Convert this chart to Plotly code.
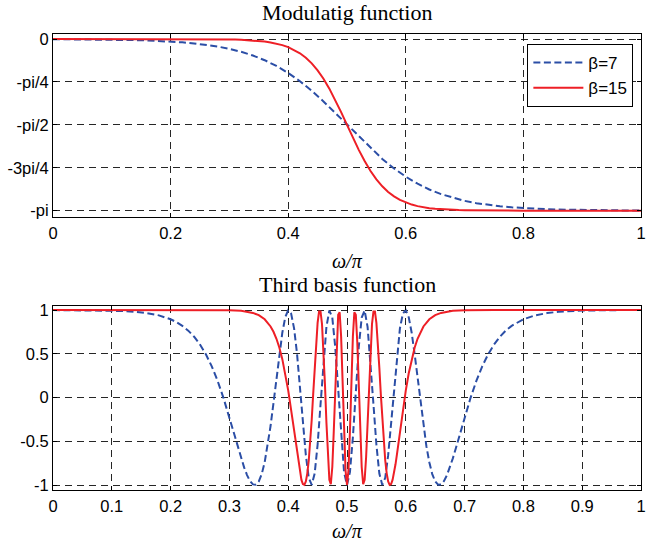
import plotly.graph_objects as go
from plotly.subplots import make_subplots

# ---------------- data ----------------
# Top panel: modulating function (radians)
top_x_b7 = [0.0, 0.02, 0.04, 0.06, 0.08, 0.1, 0.12, 0.14, 0.16, 0.18, 0.2, 0.22, 0.24, 0.26, 0.28,
            0.3, 0.32, 0.34, 0.36, 0.38, 0.4, 0.42, 0.44, 0.46, 0.48, 0.5, 0.52, 0.54, 0.56, 0.58,
            0.6, 0.62, 0.64, 0.66, 0.68, 0.7, 0.72, 0.74, 0.76, 0.78, 0.8, 0.82, 0.84, 0.86, 0.88,
            0.9, 0.92, 0.94, 0.96, 0.98, 1.0]
top_y_b7 = [-0.0029, -0.0038, -0.0050, -0.0066, -0.0088, -0.0116, -0.0153, -0.0202, -0.0267, -0.0352,
            -0.0464, -0.0611, -0.0804, -0.1055, -0.1380, -0.1801, -0.2340, -0.3023, -0.3879, -0.4935,
            -0.6215, -0.7729, -0.9473, -1.1421, -1.3523, -1.5708, -1.7893, -1.9995, -2.1943, -2.3687,
            -2.5201, -2.6481, -2.7537, -2.8393, -2.9076, -2.9615, -3.0036, -3.0361, -3.0612, -3.0805,
            -3.0952, -3.1064, -3.1149, -3.1214, -3.1263, -3.1300, -3.1329, -3.1350, -3.1366, -3.1378,
            -3.1387]

top_x_b15 = [0.0, 0.1, 0.2, 0.25, 0.3, 0.31, 0.32, 0.33, 0.34, 0.35, 0.36, 0.37, 0.38, 0.39, 0.4,
             0.41, 0.42, 0.43, 0.44, 0.45, 0.46, 0.47, 0.48, 0.49, 0.5, 0.51, 0.52, 0.53, 0.54, 0.55,
             0.56, 0.57, 0.58, 0.59, 0.6, 0.61, 0.62, 0.63, 0.64, 0.65, 0.66, 0.67, 0.68, 0.69, 0.7,
             0.75, 0.8, 0.9, 1.0]
top_y_b15 = [0.0, 0.0, -0.0004, -0.0017, -0.0078, -0.0105, -0.0141, -0.0190, -0.0256, -0.0345,
             -0.0464, -0.0623, -0.0836, -0.1117, -0.1490, -0.1978, -0.2613, -0.3428, -0.4456, -0.5731,
             -0.7272, -0.9081, -1.1132, -1.3369, -1.5708, -1.8047, -2.0284, -2.2335, -2.4144, -2.5685,
             -2.6960, -2.7988, -2.8803, -2.9438, -2.9926, -3.0299, -3.0580, -3.0793, -3.0952, -3.1071,
             -3.1160, -3.1226, -3.1275, -3.1311, -3.1338, -3.1399, -3.1412, -3.1416, -3.1416]

# Bottom panel: third basis function
bot_x_b7 = [0.0, 0.05, 0.1, 0.12, 0.14, 0.16, 0.18, 0.2, 0.21, 0.22, 0.23, 0.24, 0.25, 0.26, 0.27,
            0.28, 0.29, 0.3, 0.305, 0.31, 0.315, 0.32, 0.325, 0.33, 0.335, 0.34, 0.345, 0.35, 0.355,
            0.36, 0.365, 0.37, 0.375, 0.38, 0.385, 0.39, 0.395, 0.4, 0.405, 0.41, 0.415, 0.42, 0.425,
            0.43, 0.435, 0.44, 0.445, 0.45, 0.455, 0.46, 0.465, 0.47, 0.475, 0.48, 0.485, 0.49, 0.495,
            0.5, 0.505, 0.51, 0.515, 0.52, 0.525, 0.53, 0.535, 0.54, 0.545, 0.55, 0.555, 0.56, 0.565,
            0.57, 0.575, 0.58, 0.585, 0.59, 0.595, 0.6, 0.605, 0.61, 0.615, 0.62, 0.625, 0.63, 0.635,
            0.64, 0.645, 0.65, 0.655, 0.66, 0.665, 0.67, 0.675, 0.68, 0.685, 0.69, 0.695, 0.7, 0.71,
            0.72, 0.73, 0.74, 0.75, 0.76, 0.77, 0.78, 0.79, 0.8, 0.82, 0.84, 0.86, 0.88, 0.9, 0.95, 1.0]
bot_y_b7 = [0.9996, 0.9983, 0.9933, 0.9883, 0.9797, 0.9646, 0.9387, 0.8942, 0.8614, 0.8189, 0.7643,
            0.6941, 0.6050, 0.4936, 0.3561, 0.1893, -0.0066, -0.2281, -0.3454, -0.4645, -0.5822,
            -0.695, -0.7985, -0.887, -0.954, -0.993, -0.997, -0.9594, -0.8749, -0.7403, -0.5557,
            -0.3259, -0.0612, 0.2209, 0.4979, 0.7404, 0.9171, 0.9977, 0.9589, 0.790, 0.502, 0.125,
            -0.286, -0.659, -0.918, -0.999, -0.869, -0.540, -0.078, 0.413, 0.807, 0.994, 0.913, 0.577,
            0.0726, -0.4553, -0.853, -1.0, -0.853, -0.4553, 0.0726, 0.577, 0.913, 0.994, 0.807, 0.413,
            -0.078, -0.540, -0.869, -0.999, -0.918, -0.659, -0.286, 0.125, 0.502, 0.790, 0.9589,
            0.9977, 0.9171, 0.7404, 0.4979, 0.2209, -0.0612, -0.3259, -0.5557, -0.7403, -0.8749,
            -0.9594, -0.997, -0.993, -0.954, -0.887, -0.7985, -0.695, -0.5822, -0.4645, -0.3454,
            -0.2281, -0.0066, 0.1893, 0.3561, 0.4936, 0.6050, 0.6941, 0.7643, 0.8189, 0.8614, 0.8942,
            0.9387, 0.9646, 0.9797, 0.9883, 0.9933, 0.9983, 0.9996]

bot_x_b15 = [0.0, 0.25, 0.3, 0.32, 0.33, 0.34, 0.35, 0.36, 0.37, 0.375, 0.38, 0.385, 0.39, 0.395, 0.4,
             0.4025, 0.405, 0.4075, 0.41, 0.4125, 0.415, 0.4175, 0.42, 0.4225, 0.425, 0.4275, 0.43,
             0.4325, 0.435, 0.4375, 0.44, 0.4425, 0.445, 0.4475, 0.45, 0.4525, 0.455, 0.4575, 0.46,
             0.4625, 0.465, 0.4675, 0.47, 0.4725, 0.475, 0.4775, 0.48, 0.4825, 0.485, 0.4875, 0.49,
             0.4925, 0.495, 0.4975, 0.5, 0.5025, 0.505, 0.5075, 0.51, 0.5125, 0.515, 0.5175, 0.52,
             0.5225, 0.525, 0.5275, 0.53, 0.5325, 0.535, 0.5375, 0.54, 0.5425, 0.545, 0.5475, 0.55,
             0.5525, 0.555, 0.5575, 0.56, 0.5625, 0.565, 0.5675, 0.57, 0.5725, 0.575, 0.5775, 0.58,
             0.5825, 0.585, 0.5875, 0.59, 0.5925, 0.595, 0.5975, 0.6, 0.605, 0.61, 0.615, 0.62, 0.625,
             0.63, 0.64, 0.65, 0.66, 0.67, 0.68, 0.7, 0.75, 1.0]
bot_y_b15 = [1.0, 1.0, 0.997, 0.990, 0.982, 0.967, 0.941, 0.894, 0.812, 0.751, 0.671, 0.569, 0.438,
             0.277, 0.081, -0.029, -0.147, -0.270, -0.397, -0.524, -0.648, -0.763, -0.863, -0.942,
             -0.989, -0.998, -0.959, -0.867, -0.717, -0.511, -0.254, 0.039, 0.342, 0.626, 0.852, 0.982,
             0.983, 0.838, 0.549, 0.154, -0.286, -0.682, -0.941, -0.989, -0.794, -0.387, 0.136, 0.630,
             0.945, 0.973, 0.696, 0.187, -0.386, -0.832, -1.0, -0.832, -0.386, 0.187, 0.696, 0.973,
             0.945, 0.630, 0.136, -0.387, -0.794, -0.989, -0.941, -0.682, -0.286, 0.154, 0.549, 0.838,
             0.983, 0.982, 0.852, 0.626, 0.342, 0.039, -0.254, -0.511, -0.717, -0.867, -0.959, -0.998,
             -0.989, -0.942, -0.863, -0.763, -0.648, -0.524, -0.397, -0.270, -0.147, -0.029, 0.081,
             0.277, 0.438, 0.569, 0.671, 0.751, 0.812, 0.894, 0.941, 0.967, 0.982, 0.990, 0.997, 1.0,
             1.0]

series_names = ["β=7", "β=15"]
top_xticks = [0, 0.2, 0.4, 0.6, 0.8, 1]
bot_xticks = [0, 0.1, 0.2, 0.3, 0.4, 0.5, 0.6, 0.7, 0.8, 0.9, 1]
top_yticks = [-3.1416, -2.3562, -1.5708, -0.7854, 0]
top_yticklabels = ["-pi", "-3pi/4", "-pi/2", "-pi/4", "0"]
bot_yticks = [-1, -0.5, 0, 0.5, 1]
bot_yticklabels = ["-1", "-0.5", "0", "0.5", "1"]
titles = ["Modulatig function", "Third basis function"]
xlabel = "<i>ω/π</i>"

# ---------------- styling ----------------
BLUE = "#2B4EA6"
RED = "#EE1F26"
W, H = 649, 544
ML, MR, MT, MB = 53, 3, 34, 54
plot_h = H - MT - MB

fig = make_subplots(rows=2, cols=1, vertical_spacing=0.0)

fig.add_trace(go.Scatter(x=top_x_b7, y=top_y_b7, mode="lines", name=series_names[0],
                         line=dict(color=BLUE, width=2, dash="7px,3.5px")), row=1, col=1)
fig.add_trace(go.Scatter(x=top_x_b15, y=top_y_b15, mode="lines", name=series_names[1],
                         line=dict(color=RED, width=2)), row=1, col=1)
fig.add_trace(go.Scatter(x=bot_x_b7, y=bot_y_b7, mode="lines", showlegend=False,
                         line=dict(color=BLUE, width=2, dash="7px,3.5px")), row=2, col=1)
fig.add_trace(go.Scatter(x=bot_x_b15, y=bot_y_b15, mode="lines", showlegend=False,
                         line=dict(color=RED, width=2)), row=2, col=1)

tickfont = dict(family="Liberation Sans, Arial", size=16.5, color="black")
axis_common = dict(showline=True, linecolor="black", linewidth=1, mirror="ticks",
                   ticks="inside", ticklen=4, tickcolor="black", zeroline=False,
                   showgrid=True, gridcolor="rgba(0,0,0,0.85)", gridwidth=1, griddash="7px,5px",
                   tickfont=tickfont, ticklabeloverflow="allow")

top_dom = [(H - MB - 216.7) / plot_h, 1.0]
bot_dom = [0.0, (H - MB - 306.0) / plot_h]

fig.update_xaxes(axis_common)
fig.update_yaxes(axis_common)
fig.update_xaxes(range=[0, 1], tickvals=top_xticks, ticktext=[str(v) for v in top_xticks],
                 ticklabelstandoff=1, row=1, col=1)
fig.update_xaxes(range=[0, 1], tickvals=bot_xticks, ticktext=[str(v) for v in bot_xticks],
                 ticklabelstandoff=1, row=2, col=1)
fig.update_yaxes(range=[-3.2516, 0.0916], tickvals=top_yticks, ticktext=top_yticklabels,
                 domain=top_dom, row=1, col=1)
fig.update_yaxes(range=[-1.057, 1.0457], tickvals=bot_yticks, ticktext=bot_yticklabels,
                 domain=bot_dom, row=2, col=1)

def py(pix):
    return (H - MB - pix) / plot_h

title_font = dict(family="Liberation Serif, Times New Roman", size=22, color="black")
label_font = dict(family="Liberation Serif, Times New Roman", size=20, color="black")
anns = [
    dict(text=titles[0], x=0.5, y=py(12.5), xref="paper", yref="paper", showarrow=False,
         xanchor="center", yanchor="middle", font=title_font),
    dict(text=titles[1], x=0.5, y=py(284.5), xref="paper", yref="paper", showarrow=False,
         xanchor="center", yanchor="middle", font=title_font),
    dict(text=xlabel, x=0.5, y=py(261), xref="paper", yref="paper", showarrow=False,
         xanchor="center", yanchor="middle", font=label_font),
    dict(text=xlabel, x=0.5, y=py(531), xref="paper", yref="paper", showarrow=False,
         xanchor="center", yanchor="middle", font=label_font),
]

fig.update_layout(
    width=W, height=H,
    margin=dict(l=ML, r=MR, t=MT, b=MB),
    paper_bgcolor="white", plot_bgcolor="white",
    annotations=anns,
    legend=dict(x=(638.3 - ML) / (W - ML - MR), xanchor="right", y=py(44), yanchor="top",
                bgcolor="white", bordercolor="black", borderwidth=1,
                font=dict(family="Liberation Sans, Arial", size=17, color="black"),
                tracegroupgap=0, itemwidth=50),
    showlegend=True,
)

fig.write_html("out.html")
